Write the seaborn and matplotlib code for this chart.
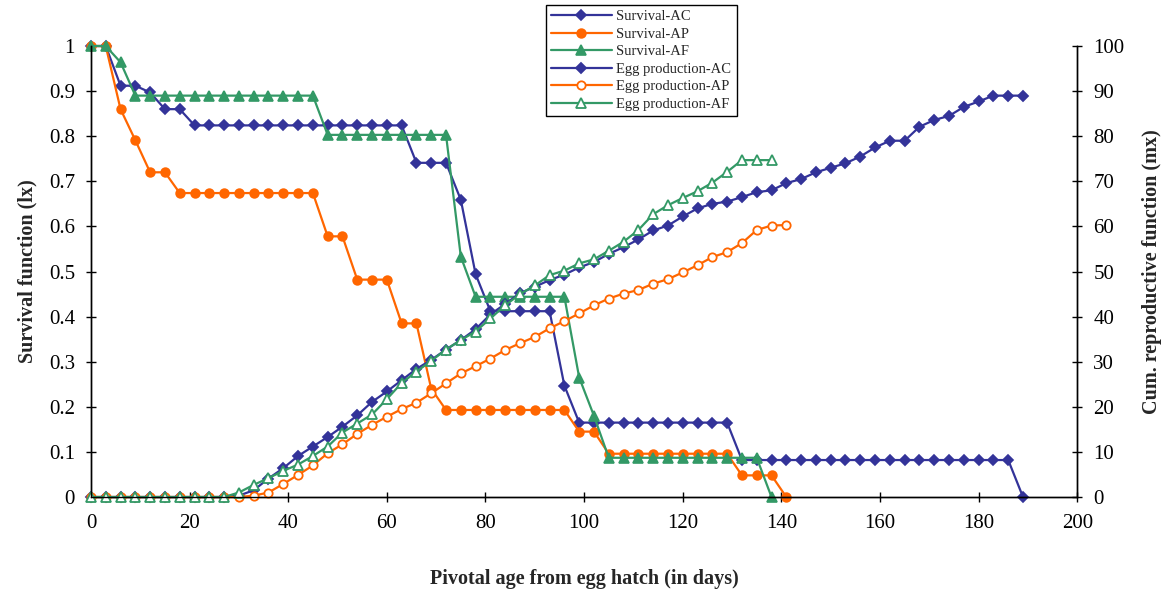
import matplotlib
matplotlib.use("Agg")
import matplotlib.pyplot as plt
import seaborn as sns
from matplotlib.ticker import FuncFormatter

# dias (cada 3 dias)
days_ac = list(range(0, 190, 3))
days_ap = list(range(0, 142, 3))
days_af = list(range(0, 139, 3))

surv_ac = [1, 1, 0.912, 0.912, 0.897, 0.860, 0.860] + [0.824] * 15 + \
          [0.741, 0.741, 0.741, 0.659, 0.494] + [0.412] * 5 + [0.247] + \
          [0.165] * 11 + [0.082] * 19 + [0]
surv_ap = [1, 1, 0.860, 0.791, 0.72, 0.72] + [0.674] * 10 + \
          [0.578, 0.578, 0.482, 0.482, 0.482, 0.385, 0.385, 0.24] + [0.193] * 9 + \
          [0.145, 0.145] + [0.096] * 9 + [0.048, 0.048, 0.048, 0]
surv_af = [1, 1, 0.964] + [0.89] * 13 + [0.803] * 9 + [0.533] + [0.444] * 7 + \
          [0.265, 0.18] + [0.087] * 11 + [0]

egg_ac = [0] * 10 + [0.3, 1.5, 4.1, 6.4, 9.1, 11.2, 13.3, 15.6, 18.1, 21.1,
                     23.4, 25.9, 28.4, 30.4, 32.7, 34.8, 37.2, 40.5, 42.8, 45.2,
                     46.6, 48.1, 49.3, 50.9, 52.1, 53.9, 55.4, 57.1, 59.1, 60.2,
                     62.2, 64.0, 65.0, 65.5, 66.5, 67.6, 68.0, 69.6, 70.5, 72.0,
                     73.0, 74.0, 75.5, 77.5, 79.0, 79.0, 82.1, 83.6, 84.5, 86.5,
                     87.7, 89.0, 89.0, 89.0]
egg_ap = [0] * 11 + [0.3, 1.0, 2.9, 4.9, 7.0, 9.7, 11.7, 14.0, 16.0, 17.8,
                     19.5, 20.9, 23.0, 25.2, 27.4, 29.0, 30.7, 32.6, 34.1, 35.5,
                     37.4, 39.0, 40.7, 42.5, 44.0, 45.1, 45.9, 47.3, 48.3, 49.8,
                     51.4, 53.2, 54.3, 56.3, 59.2, 60.2, 60.3]
egg_af = [0] * 10 + [1.0, 2.7, 4.2, 5.8, 7.2, 9.1, 11.2, 14.3, 16.3, 18.3,
                     21.7, 25.3, 27.8, 30.2, 32.7, 34.8, 36.7, 39.6, 42.5, 45.0,
                     46.9, 49.2, 50.2, 51.8, 52.7, 54.6, 56.6, 59.2, 62.7, 64.7,
                     66.3, 67.8, 69.7, 72.1, 74.7, 74.7, 74.7]

BLUE = "#333399"
ORANGE = "#FF6600"
GREEN = "#339966"

sns.set_style("ticks")
plt.rcParams['font.family'] = ['Liberation Serif', 'DejaVu Serif']

fig = plt.figure(figsize=(11.66, 5.9), dpi=100)
ax = fig.add_axes([0.078, 0.1576, 0.8459, 0.7644])
ax2 = ax.twinx()

survival = [
    ("Survival-AC", days_ac, surv_ac, BLUE, "D", 4.8, BLUE),
    ("Survival-AP", days_ap, surv_ap, ORANGE, "o", 6.3, ORANGE),
    ("Survival-AF", days_af, surv_af, GREEN, "^", 6.8, GREEN),
]
eggs = [
    ("Egg production-AC", days_ac, egg_ac, BLUE, "D", 4.8, BLUE),
    ("Egg production-AP", days_ap, egg_ap, ORANGE, "o", 6, "white"),
    ("Egg production-AF", days_af, egg_af, GREEN, "^", 6.5, "white"),
]

for nombre, x, y, c, m, ms, fc in survival:
    sns.lineplot(x=x, y=y, ax=ax, color=c, marker=m, markersize=ms,
                 markerfacecolor=fc, markeredgecolor=c, markeredgewidth=1.2,
                 linewidth=1.6, label=nombre, clip_on=False)
for nombre, x, y, c, m, ms, fc in eggs:
    sns.lineplot(x=x, y=y, ax=ax2, color=c, marker=m, markersize=ms,
                 markerfacecolor=fc, markeredgecolor=c, markeredgewidth=1.3,
                 linewidth=1.6, label=nombre, clip_on=False)

h1, l1 = ax.get_legend_handles_labels()
h2, l2 = ax2.get_legend_handles_labels()
for a in (ax, ax2):
    if a.get_legend() is not None:
        a.get_legend().remove()

ax.set_xlim(0, 200)
ax.set_ylim(0, 1)
ax2.set_ylim(0, 100)
ax.set_xticks(range(0, 201, 20))
ax.set_yticks([i / 10 for i in range(11)])
ax2.set_yticks(range(0, 101, 10))
ax.yaxis.set_major_formatter(FuncFormatter(lambda v, p: f"{v:g}"))

for a in (ax, ax2):
    a.spines["top"].set_visible(False)
    for s in ("left", "right", "bottom"):
        a.spines[s].set_color("black")
        a.spines[s].set_linewidth(1.0)
    a.tick_params(direction="inout", length=7, width=1, labelsize=15, colors="black", pad=8)
ax.tick_params(axis="x", pad=9)

ax.set_xlabel("Pivotal age from egg hatch (in days)", fontsize=14.5, fontweight="bold", labelpad=26)
ax.set_ylabel("Survival function (lx)", fontsize=14.5, fontweight="bold", labelpad=8)
ax2.set_ylabel("Cum. reproductive function (mx)", fontsize=14.5, fontweight="bold", labelpad=13)

leg = fig.legend(h1 + h2, l1 + l2, loc="upper left", bbox_to_anchor=(0.468, 0.992),
                 frameon=True, fancybox=False, framealpha=1, edgecolor="black",
                 fontsize=10.5, handlelength=4.2, labelspacing=0.3, borderpad=0.35,
                 handletextpad=0.3, borderaxespad=0)
leg.get_frame().set_linewidth(1.0)

fig.savefig("out.png", dpi=100)
